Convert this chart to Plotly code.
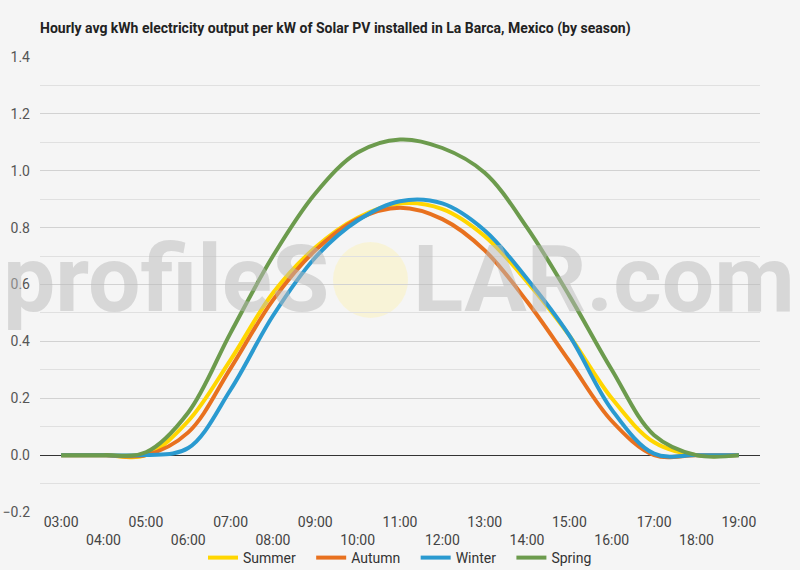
import plotly.graph_objects as go

hours = ["03:00", "04:00", "05:00", "06:00", "07:00", "08:00", "09:00", "10:00", "11:00",
         "12:00", "13:00", "14:00", "15:00", "16:00", "17:00", "18:00", "19:00"]
summer = [0, 0, 0, 0.12, 0.335, 0.57, 0.73, 0.835, 0.885, 0.865, 0.77, 0.61, 0.42, 0.20, 0.045, 0, 0]
autumn = [0, 0, 0, 0.08, 0.305, 0.545, 0.72, 0.83, 0.87, 0.83, 0.72, 0.54, 0.33, 0.12, 0, 0, 0]
winter = [0, 0, 0, 0.025, 0.23, 0.49, 0.695, 0.825, 0.893, 0.885, 0.79, 0.62, 0.42, 0.16, 0.005, 0, 0]
spring = [0, 0, 0.01, 0.15, 0.43, 0.70, 0.92, 1.064, 1.11, 1.08, 0.993, 0.80, 0.56, 0.30, 0.07, 0, 0]

series = [("Summer", summer, "#FFD600"), ("Autumn", autumn, "#E8711F"),
          ("Winter", winter, "#2A9AD0"), ("Spring", spring, "#6C9B4D")]

xs = list(range(len(hours)))
fig = go.Figure()
for i, (name, vals, col) in enumerate(series):
    label = name + ("\u00a0" * 3 if i < len(series) - 1 else "")
    fig.add_trace(go.Scatter(x=xs, y=vals, name=label, mode="lines",
                             line=dict(color=col, width=4, shape="spline", smoothing=1.0)))

ticktext = [h if i % 2 == 0 else "<br>" + h for i, h in enumerate(hours)]

W, H = 800, 570
L, R, T, B = 40, 40, 57, 58
pw, ph = W - L - R, H - T - B

def px(x):
    return (x - L) / pw

def py(y):
    return (H - B - y) / ph

fig.update_layout(
    width=W, height=H,
    margin=dict(l=L, r=R, t=T, b=B, autoexpand=False),
    paper_bgcolor="#f5f5f5", plot_bgcolor="#f5f5f5",
    font=dict(family="Roboto", size=14, color="#444"),
    title=dict(text="<b>Hourly avg kWh electricity output per kW of Solar PV installed in La Barca, Mexico (by season)</b>",
               x=40 / W, xref="container", xanchor="left", y=1 - 28 / H, yref="container", yanchor="middle",
               font=dict(family="Roboto", size=14, color="#222")),
    xaxis=dict(range=[-0.5, len(hours) - 0.5], tickvals=xs, ticktext=ticktext, tickangle=0,
               showgrid=False, zeroline=False, showline=False, ticks="", automargin=False,
               tickfont=dict(size=14, color="#444")),
    yaxis=dict(range=[-0.2, 1.4], dtick=0.2, tick0=0, tickformat=".1f", automargin=False,
               showgrid=True, gridcolor="#d2d2d2", gridwidth=1,
               minor=dict(dtick=0.1, showgrid=True, gridcolor="#e0e0e0", gridwidth=1),
               zeroline=True, zerolinecolor="#333", zerolinewidth=1,
               ticks="", tickfont=dict(size=14, color="#555"), ticklabelstandoff=9),
    legend=dict(orientation="h", x=0.5, xref="container", xanchor="center",
                y=1 - 558 / H, yref="container", yanchor="middle",
                font=dict(size=14, color="#333"), itemwidth=30,
                bgcolor="rgba(0,0,0,0)"),
    showlegend=True,
)

# watermark
fig.add_shape(type="circle", xref="paper", yref="paper",
              x0=px(333), x1=px(408), y0=py(318), y1=py(242),
              fillcolor="rgba(255,240,160,0.35)", line=dict(width=0), layer="below")
wm_font = dict(family="Roboto", size=93, weight="bold", color="rgba(185,185,185,0.5)")
fig.add_annotation(text="profileS", xref="paper", yref="paper", x=px(331), y=py(279),
                   xanchor="right", yanchor="middle", showarrow=False, font=wm_font)
fig.add_annotation(text="LAR.com", xref="paper", yref="paper", x=px(411), y=py(279),
                   xanchor="left", yanchor="middle", showarrow=False, font=wm_font)

fig.write_html("out.html")
